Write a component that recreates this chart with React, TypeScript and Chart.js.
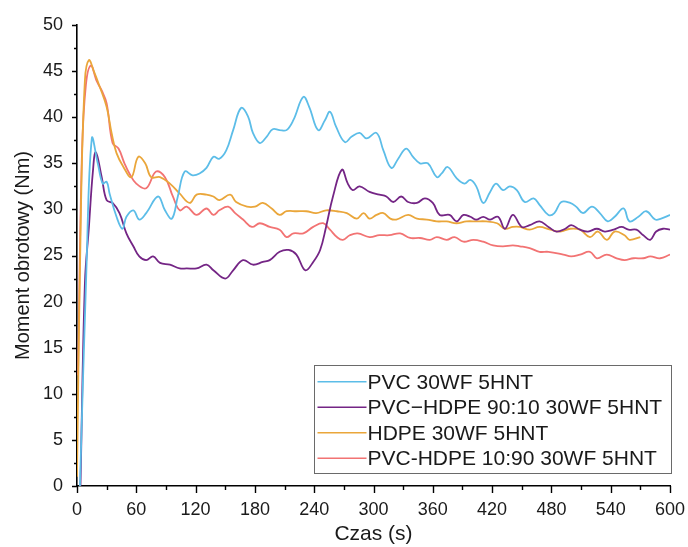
import React, { useEffect, useRef } from "react";
import { Chart, registerables } from "chart.js";

Chart.register(...registerables);

// Torque curves: time (s) and torque (Nm) for each blend
const TIME_PVC = [3, 9.5, 15, 21, 26, 30, 33, 40, 46, 50, 57, 63, 70, 82, 89, 96, 102, 109, 117, 124, 131, 138, 144, 151, 158, 166, 173, 178, 185, 192, 198, 205, 212, 219, 229, 235, 244, 251, 256, 262, 271, 278, 286, 293, 303, 310, 318, 325, 333, 340, 347, 355, 364, 369, 375, 384, 392, 398, 404, 411, 418, 424, 431, 438, 445, 453, 462, 468, 477, 483, 490, 499, 505, 512, 521, 529, 537, 544, 553, 559, 568, 576, 585, 591, 600];
const TORQUE_PVC = [0, 23.4, 37.7, 35.0, 32.8, 33.0, 31.7, 29.2, 27.9, 29.2, 29.9, 28.9, 29.6, 31.4, 29.9, 29.0, 31.4, 34.1, 33.7, 33.9, 34.5, 35.7, 35.5, 36.4, 38.6, 41.0, 40.1, 38.3, 37.2, 37.9, 38.7, 38.6, 38.6, 39.7, 42.2, 41.1, 38.6, 39.7, 40.6, 39.0, 37.3, 37.9, 38.3, 37.7, 38.3, 36.4, 34.5, 35.5, 36.6, 35.7, 35.0, 35.0, 33.5, 33.9, 34.6, 33.4, 32.8, 33.2, 32.5, 30.7, 31.9, 32.8, 32.1, 32.5, 32.1, 30.8, 31.2, 30.5, 29.4, 29.6, 30.8, 30.7, 30.3, 29.6, 30.3, 29.6, 28.7, 29.2, 30.1, 28.7, 29.2, 29.8, 28.9, 29.0, 29.4];

const TIME_PVC_HDPE_90_10 = [3.5, 8, 12, 16, 19, 25, 30, 36, 43, 50, 57, 63, 70, 77, 84, 94, 104, 111, 121, 131, 138, 150, 158, 168, 178, 188, 195, 205, 214, 222, 231, 239, 246, 252, 259, 268, 274, 279, 286, 296, 306, 313, 320, 328, 335, 344, 352, 360, 367, 377, 384, 391, 398, 404, 411, 418, 426, 433, 441, 450, 458, 468, 477, 485, 494, 500, 509, 517, 526, 534, 543, 551, 558, 566, 573, 580, 586, 593, 600];
const TORQUE_PVC_HDPE_90_10 = [0, 22, 28, 34, 36.2, 33.5, 31.0, 30.7, 29.6, 27.4, 26.0, 24.9, 24.5, 24.9, 24.2, 24.0, 23.6, 23.6, 23.6, 24.0, 23.4, 22.5, 23.4, 24.5, 24.0, 24.3, 24.5, 25.4, 25.6, 25.1, 23.4, 24.3, 25.6, 28.1, 31.4, 34.3, 32.8, 32.1, 32.5, 31.9, 31.6, 31.4, 30.8, 31.4, 30.8, 30.7, 31.2, 30.7, 29.4, 29.4, 28.7, 29.4, 29.2, 28.9, 29.2, 28.9, 29.2, 27.9, 29.4, 28.1, 28.3, 28.7, 28.1, 27.6, 27.9, 28.3, 27.8, 27.6, 27.9, 27.6, 27.8, 28.1, 27.8, 27.8, 27.2, 26.7, 27.6, 27.9, 27.8];

const TIME_HDPE = [0, 4, 8, 12, 17, 23, 30, 35, 40, 47, 55, 62, 69, 75, 84, 94, 104, 114, 121, 131, 138, 144, 155, 161, 172, 180, 188, 197, 205, 212, 222, 232, 242, 252, 263, 273, 283, 290, 296, 303, 310, 317, 323, 335, 344, 354, 364, 374, 384, 394, 404, 414, 425, 433, 441, 448, 458, 468, 479, 489, 499, 509, 519, 527, 536, 544, 554, 559, 570];
const TORQUE_HDPE = [1, 30, 44, 46.2, 45.0, 43.3, 41.1, 38.3, 36.1, 34.6, 33.5, 35.7, 35.0, 33.5, 33.5, 32.8, 31.7, 30.7, 31.6, 31.6, 31.4, 31.0, 31.6, 30.8, 30.3, 30.3, 30.7, 30.1, 29.4, 29.8, 29.8, 29.8, 29.6, 29.9, 29.8, 29.6, 29.0, 29.6, 29.0, 29.4, 29.6, 29.0, 28.9, 29.4, 29.0, 28.9, 28.7, 28.7, 28.5, 28.7, 28.7, 28.7, 28.5, 27.9, 28.1, 28.1, 27.8, 28.1, 27.8, 27.6, 27.9, 27.8, 27.0, 27.6, 26.7, 27.6, 27.2, 26.7, 27.0];

const TIME_PVC_HDPE_10_90 = [1, 5, 9, 14, 20, 25, 30, 36, 42, 48, 53, 60, 70, 80, 89, 97, 104, 111, 121, 131, 138, 144, 153, 160, 168, 177, 185, 195, 205, 212, 219, 229, 239, 249, 256, 263, 269, 276, 284, 296, 306, 316, 327, 337, 347, 357, 364, 374, 382, 391, 401, 411, 421, 431, 441, 448, 458, 468, 477, 492, 500, 509, 519, 526, 536, 546, 554, 563, 573, 580, 590, 600];
const TORQUE_PVC_HDPE_10_90 = [12, 36, 43.5, 45.6, 43.9, 42.9, 41.5, 37.2, 36.6, 35.0, 33.9, 32.8, 32.3, 34.1, 33.5, 31.4, 29.9, 30.3, 29.4, 30.1, 29.4, 29.9, 30.3, 29.6, 28.9, 28.1, 28.5, 28.1, 27.8, 27.0, 27.4, 27.4, 28.1, 28.5, 27.8, 27.0, 26.7, 27.2, 27.4, 27.0, 27.2, 27.2, 27.4, 26.9, 26.9, 26.7, 27.0, 26.7, 27.0, 26.5, 26.7, 26.5, 26.1, 26.0, 26.1, 26.0, 25.8, 25.4, 25.4, 25.1, 24.9, 25.1, 25.4, 24.7, 25.1, 24.7, 24.5, 24.7, 24.7, 24.9, 24.7, 25.1];

const SERIES_NAMES = [
  "PVC 30WF 5HNT",
  "PVC\u2212HDPE 90:10 30WF 5HNT",
  "HDPE 30WF 5HNT",
  "PVC-HDPE 10:90 30WF 5HNT",
];
const SERIES_COLORS = ["#5cbde8", "#742585", "#eaa63a", "#f27373"];

const X_TICKS = [0, 60, 120, 180, 240, 300, 360, 420, 480, 540, 600];
const Y_TICKS = [0, 5, 10, 15, 20, 25, 30, 35, 40, 45, 50];

const FONT = "'Liberation Sans', Arial, sans-serif";
const INK = "#1a1a1a";

const toPoints = (xs: number[], ys: number[]) => xs.map((x, i) => ({ x, y: ys[i] }));

// Outward major and minor tick marks on both axes
const tickMarks = {
  id: "tickMarks",
  afterDraw(chart: any) {
    const { ctx, chartArea, scales } = chart;
    const xs = scales.x;
    const ys = scales.y;
    ctx.save();
    ctx.strokeStyle = "#000";
    ctx.lineWidth = 1.4;
    ctx.beginPath();
    for (let t = 0; t <= 600; t += 30) {
      const px = Math.round(xs.getPixelForValue(t)) + 0.5;
      const len = t % 60 === 0 ? 7 : 4;
      ctx.moveTo(px, chartArea.bottom);
      ctx.lineTo(px, chartArea.bottom + len);
    }
    for (let v = 0; v <= 50; v += 2.5) {
      const py = Math.round(ys.getPixelForValue(v)) + 0.5;
      const len = v % 5 === 0 ? 5 : 3;
      ctx.moveTo(chartArea.left, py);
      ctx.lineTo(chartArea.left - len, py);
    }
    ctx.stroke();
    ctx.restore();
  },
};

// Boxed legend inside the lower right of the plot
const boxLegend = {
  id: "boxLegend",
  afterDraw(chart: any) {
    const { ctx } = chart;
    const left = 314.5;
    const top = 365.5;
    const w = 357;
    const h = 108;
    const rowH = 25.5;
    ctx.save();
    ctx.fillStyle = "#fff";
    ctx.fillRect(left, top, w, h);
    ctx.strokeStyle = "#6a6a6a";
    ctx.lineWidth = 1;
    ctx.strokeRect(left, top, w, h);
    ctx.font = `21px ${FONT}`;
    ctx.textBaseline = "middle";
    ctx.textAlign = "left";
    chart.data.datasets.forEach((ds: any, i: number) => {
      const cy = top + 3.5 + rowH * (i + 0.5);
      ctx.strokeStyle = ds.borderColor;
      ctx.lineWidth = 1.6;
      ctx.beginPath();
      ctx.moveTo(left + 3, cy);
      ctx.lineTo(left + 52, cy);
      ctx.stroke();
      ctx.fillStyle = INK;
      ctx.fillText(ds.label, left + 53, cy + 1);
    });
    ctx.restore();
  },
};

export default function App() {
  const canvasRef = useRef<HTMLCanvasElement | null>(null);

  useEffect(() => {
    if (!canvasRef.current) return;
    const seriesData = [
      toPoints(TIME_PVC, TORQUE_PVC),
      toPoints(TIME_PVC_HDPE_90_10, TORQUE_PVC_HDPE_90_10),
      toPoints(TIME_HDPE, TORQUE_HDPE),
      toPoints(TIME_PVC_HDPE_10_90, TORQUE_PVC_HDPE_10_90),
    ];
    const chart = new Chart(canvasRef.current, {
      type: "line",
      data: {
        datasets: seriesData.map((data, i) => ({
          label: SERIES_NAMES[i],
          data,
          borderColor: SERIES_COLORS[i],
          backgroundColor: SERIES_COLORS[i],
          borderWidth: 1.8,
          pointRadius: 0,
          fill: false,
          tension: 0.4,
        })),
      },
      options: {
        responsive: false,
        animation: false,
        layout: { padding: { top: 25, right: 18, left: 0, bottom: 0 } },
        plugins: {
          legend: { display: false },
          tooltip: { enabled: false },
        },
        scales: {
          x: {
            type: "linear",
            min: 0,
            max: 600,
            afterFit: (s: any) => {
              s.height = 61;
              s.paddingLeft = 0;
              s.paddingRight = 0;
            },
            afterBuildTicks: (s: any) => {
              s.ticks = X_TICKS.map((value) => ({ value }));
            },
            grid: { display: true, drawOnChartArea: false, drawTicks: false },
            border: { display: true, color: "#000", width: 1.6 },
            ticks: {
              padding: 13.5,
              color: INK,
              font: { family: FONT, size: 18 },
              maxRotation: 0,
              autoSkip: false,
            },
            title: {
              display: true,
              text: "Czas (s)",
              color: INK,
              font: { family: FONT, size: 21 },
              padding: { top: 0, bottom: 0 },
            },
          },
          y: {
            type: "linear",
            min: 0,
            max: 50,
            afterFit: (s: any) => {
              s.width = 77;
              s.paddingTop = 0;
              s.paddingBottom = 0;
            },
            afterBuildTicks: (s: any) => {
              s.ticks = Y_TICKS.map((value) => ({ value }));
            },
            grid: { display: true, drawOnChartArea: false, drawTicks: false },
            border: { display: true, color: "#000", width: 1.6 },
            ticks: {
              padding: 14,
              color: INK,
              font: { family: FONT, size: 18 },
              autoSkip: false,
            },
            title: {
              display: true,
              text: "Moment obrotowy (Nm)",
              color: INK,
              font: { family: FONT, size: 20 },
              padding: { top: 11, bottom: 0 },
            },
          },
        },
      },
      plugins: [tickMarks, boxLegend],
    });
    return () => chart.destroy();
  }, []);

  return (
    <div style={{ position: "fixed", left: 0, top: 0, width: 688, height: 547, background: "#fff" }}>
      <canvas ref={canvasRef} width={688} height={547} style={{ display: "block" }} />
    </div>
  );
}
